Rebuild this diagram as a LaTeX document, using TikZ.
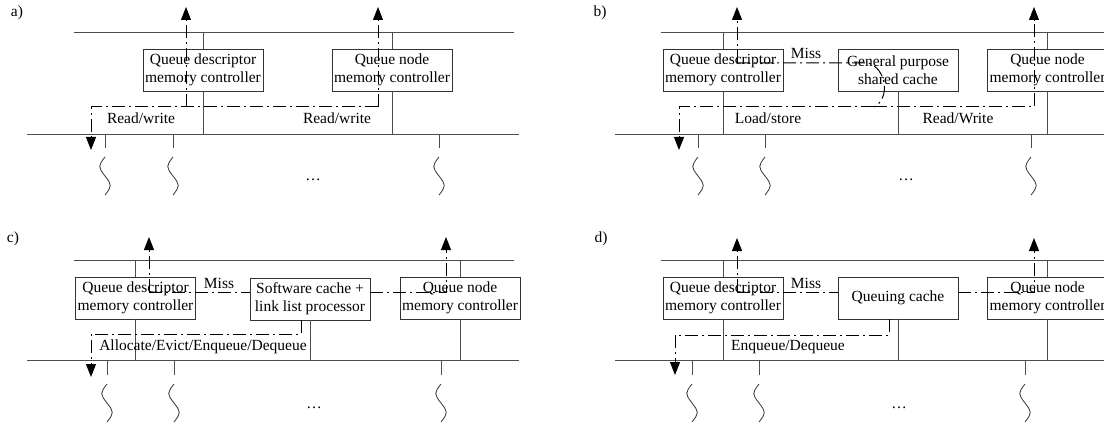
\documentclass[tikz,border=0pt]{standalone}
\usepackage{fontspec}
\setmainfont{Liberation Serif}
\usetikzlibrary{arrows.meta}

\tikzset{
  bus/.style={draw=black!70, line width=0.8pt},
  ctrl/.style={draw=black!80, fill=white, line width=0.8pt, minimum width=120pt, minimum height=42pt, inner sep=1pt, align=center},
  flow/.style={line width=1pt, dash pattern=on 13pt off 4pt on 2pt off 4pt},
  flowarrow/.style={flow, -{Triangle[length=13pt,width=10pt]}},
  wave/.style={black!80, line width=0.8pt},
}

\begin{document}
\begin{tikzpicture}[x=1pt, y=-1pt, font=\fontsize{15.5}{18}\selectfont]
\useasboundingbox (0,0) rectangle (1104,425);

% a)
\node (la) at (17,13) {a)};
\coordinate (atw) at (74,32);
\coordinate (ate) at (514,32);
\coordinate (abw) at (27,134);
\coordinate (abe) at (519,134);
\draw[bus] (atw) -- (ate);
\draw[bus] (abw) -- (abe);
\node[ctrl] (qda) at (203,70) {Queue descriptor\\memory controller};
\node[ctrl] (qna) at (392,70) {Queue node\\memory controller};
\draw[bus] (qda |- atw) -- (qda.north);
\draw[bus] (qda.south) -- (qda |- abw);
\draw[bus] (qna |- atw) -- (qna.north);
\draw[bus] (qna.south) -- (qna |- abw);
\coordinate (a1) at (186,107);
\coordinate (a2) at (378,107);
\coordinate (a3) at (91,107);
\coordinate (aup1) at (186,7);
\coordinate (aup2) at (378,7);
\coordinate (adn) at (91,150);
\draw[flowarrow] (a1) -- (aup1);
\draw[flowarrow] (a2) -- (aup2);
\draw[flowarrow] (a2) -- (a3) -- (adn);
\node (rwa1) at (141,118) {Read/write};
\node (rwa2) at (337,118) {Read/write};
\foreach \x in {105,173,439} {
  \draw[bus] (\x,134) -- (\x,148);
  \draw[wave] (\x,157) .. controls (\x-7,166) and (\x-7,167) .. (\x,176) .. controls (\x+7,185) and (\x+7,186) .. (\x,195);
}
\node[anchor=base] (dta) at (313,181) {\dots};

% b)
\node (lb) at (600,13) {b)};
\coordinate (btw) at (661,32);
\coordinate (bte) at (1104,32);
\coordinate (bbw) at (615,134);
\coordinate (bbe) at (1104,134);
\draw[bus] (btw) -- (bte);
\draw[bus] (bbw) -- (bbe);
\node[ctrl] (qdb) at (723,70) {Queue descriptor\\memory controller};
\node[ctrl] (gcb) at (898,70) {General purpose\\shared cache};
\node[ctrl, minimum width=121pt] (qnb) at (1047.5,70) {Queue node\\memory controller};
\draw[bus] (qdb |- btw) -- (qdb.north);
\draw[bus] (qdb.south) -- (qdb |- bbw);
\draw[bus] (gcb.south) -- (gcb |- bbw);
\draw[bus] (qnb |- btw) -- (qnb.north);
\draw[bus] (qnb.south) -- (qnb |- bbw);
\coordinate (b1) at (737,63);
\coordinate (b2) at (868,63);
\coordinate (b3) at (874,107);
\coordinate (b4) at (679,107);
\coordinate (b5) at (1034,107);
\coordinate (bup1) at (737,7);
\coordinate (bup2) at (1034,7);
\coordinate (bdn) at (679,150);
\draw[flowarrow] (b1) -- (bup1);
\draw[flow] (b1) -- (b2) .. controls (886,68) and (891,98) .. (b3);
\draw[flowarrow] (b3) -- (b4) -- (bdn);
\draw[flowarrow] (b3) -- (b5) -- (bup2);
\node (msb) at (806,53) {Miss};
\node (lsb) at (768,118) {Load/store};
\node (rwb) at (958,118) {Read/Write};
\foreach \x in {698,765,1031} {
  \draw[bus] (\x,134) -- (\x,148);
  \draw[wave] (\x,157) .. controls (\x-7,166) and (\x-7,167) .. (\x,176) .. controls (\x+7,185) and (\x+7,186) .. (\x,195);
}
\node[anchor=base] (dtb) at (906,181) {\dots};

\begin{scope}[shift={(0,227)}]
% c)
\node (lc) at (13,12) {c)};
\coordinate (ctw) at (74,33);
\coordinate (cte) at (514,33);
\coordinate (cbw) at (27,133);
\coordinate (cbe) at (519,133);
\draw[bus] (ctw) -- (cte);
\draw[bus] (cbw) -- (cbe);
\node[ctrl] (qdc) at (135.5,71) {Queue descriptor\\memory controller};
\node[ctrl] (swc) at (310,72) {Software cache +\\link list processor};
\node[ctrl] (qnc) at (460,71) {Queue node\\memory controller};
\draw[bus] (qdc |- ctw) -- (qdc.north);
\draw[bus] (qdc.south) -- (qdc |- cbw);
\draw[bus] (swc.south) -- (swc |- cbw);
\draw[bus] (qnc |- ctw) -- (qnc.north);
\draw[bus] (qnc.south) -- (qnc |- cbw);
\coordinate (c1) at (149,65);
\coordinate (c2) at (446,65);
\coordinate (c3) at (301,107);
\coordinate (c4) at (91,107);
\coordinate (cup1) at (149,10);
\coordinate (cup2) at (446,10);
\coordinate (cdn) at (91,150);
\draw[flowarrow] (c1) -- (cup1);
\draw[flow] (c1) -- (c1 -| swc.west);
\draw[flowarrow] (swc.east |- c2) -- (c2) -- (cup2);
\draw[flowarrow] (swc.south -| c3) -- (c3) -- (c4) -- (cdn);
\node (msc) at (219,56) {Miss};
\node (aec) at (203,120) {Allocate/Evict/Enqueue/Dequeue};
\foreach \x in {107,174,441} {
  \draw[bus] (\x,133) -- (\x,148);
  \draw[wave] (\x,157) .. controls (\x-7,166) and (\x-7,167) .. (\x,176) .. controls (\x+7,185) and (\x+7,186) .. (\x,195);
}
\node[anchor=base] (dtc) at (314,181) {\dots};

% d)
\node (ld) at (601,12) {d)};
\coordinate (dtw) at (661,33);
\coordinate (dte) at (1104,33);
\coordinate (dbw) at (615,133);
\coordinate (dbe) at (1104,133);
\draw[bus] (dtw) -- (dte);
\draw[bus] (dbw) -- (dbe);
\node[ctrl] (qdd) at (723,71) {Queue descriptor\\memory controller};
\node[ctrl] (qcd) at (898,71) {Queuing cache};
\node[ctrl, minimum width=121pt] (qnd) at (1047.5,71) {Queue node\\memory controller};
\draw[bus] (qdd |- dtw) -- (qdd.north);
\draw[bus] (qdd.south) -- (qdd |- dbw);
\draw[bus] (qcd.south) -- (qcd |- dbw);
\draw[bus] (qnd |- dtw) -- (qnd.north);
\draw[bus] (qnd.south) -- (qnd |- dbw);
\coordinate (d1) at (737,65);
\coordinate (d2) at (1034,65);
\coordinate (d3) at (889,108);
\coordinate (d4) at (675,108);
\coordinate (dup1) at (737,11);
\coordinate (dup2) at (1034,11);
\coordinate (ddn) at (675,148);
\draw[flowarrow] (d1) -- (dup1);
\draw[flow] (d1) -- (d1 -| qcd.west);
\draw[flowarrow] (qcd.east |- d2) -- (d2) -- (dup2);
\draw[flowarrow] (qcd.south -| d3) -- (d3) -- (d4) -- (ddn);
\node (msd) at (806,56) {Miss};
\node (edd) at (788,120) {Enqueue/Dequeue};
\foreach \x in {692,759,1025} {
  \draw[bus] (\x,133) -- (\x,148);
  \draw[wave] (\x,157) .. controls (\x-7,166) and (\x-7,167) .. (\x,176) .. controls (\x+7,185) and (\x+7,186) .. (\x,195);
}
\node[anchor=base] (dtd) at (899,181) {\dots};
\end{scope}
\end{tikzpicture}
\end{document}
